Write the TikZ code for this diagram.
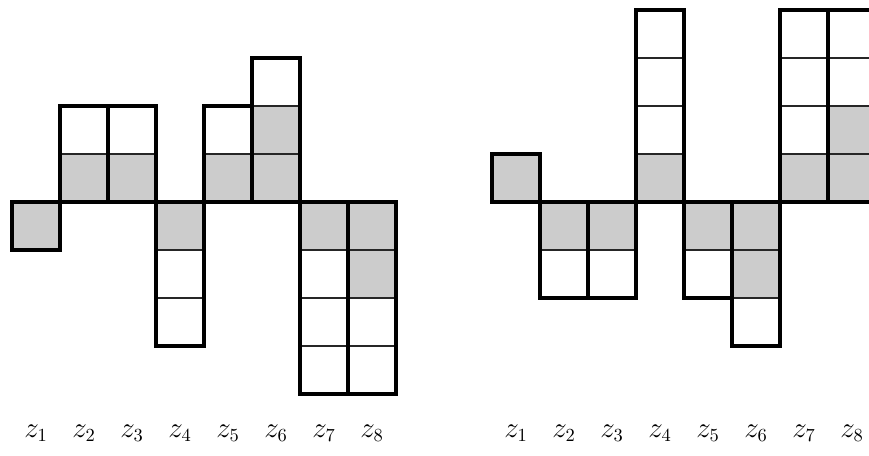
\documentclass[tikz,border=0pt]{standalone}
\usetikzlibrary{calc}
\definecolor{cellgray}{RGB}{204,204,204}
\tikzset{
  thinrule/.style={line width=0.8pt,draw=black!85},
  colframe/.style={line width=2pt,draw=black},
  zlabel/.style={anchor=base,inner sep=0pt,font=\fontsize{16}{19}\selectfont},
}
\begin{document}
\begin{tikzpicture}[x=1cm,y=1cm]
\useasboundingbox (-0.25,-5.2708) rectangle (17.854,4.2083);
\clip (-0.25,-5.2708) rectangle (17.854,4.2083);
% columns: x-left / sign / cells / shaded
\foreach \x/\s/\n/\k in {0/-1/1/1, 1/1/2/1, 2/1/2/1, 3/-1/3/1, 4/1/2/1, 5/1/3/2, 6/-1/4/1, 7/-1/4/2,
                          10/1/1/1, 11/-1/2/1, 12/-1/2/1, 13/1/4/1, 14/-1/2/1, 15/-1/3/2, 16/1/4/1, 17/1/4/2}{
  \fill[cellgray] (\x,0) rectangle (\x+1,\s*\k);
  \foreach \j in {1,...,\n}{
    \draw[thinrule] (\x,\s*\j) -- (\x+1,\s*\j);
  }
}
\foreach \x/\s/\n in {0/-1/1, 1/1/2, 2/1/2, 3/-1/3, 4/1/2, 5/1/3, 6/-1/4, 7/-1/4,
                      10/1/1, 11/-1/2, 12/-1/2, 13/1/4, 14/-1/2, 15/-1/3, 16/1/4, 17/1/4}{
  \draw[colframe] (\x,0) rectangle (\x+1,\s*\n);
}
% labels
\foreach \i in {1,...,8}{
  \node[zlabel] (l\i) at (\i-0.5,-4.896) {$z_{\i}$};
  \node[zlabel] (r\i) at (\i+9.5,-4.896) {$z_{\i}$};
}
\end{tikzpicture}
\end{document}
